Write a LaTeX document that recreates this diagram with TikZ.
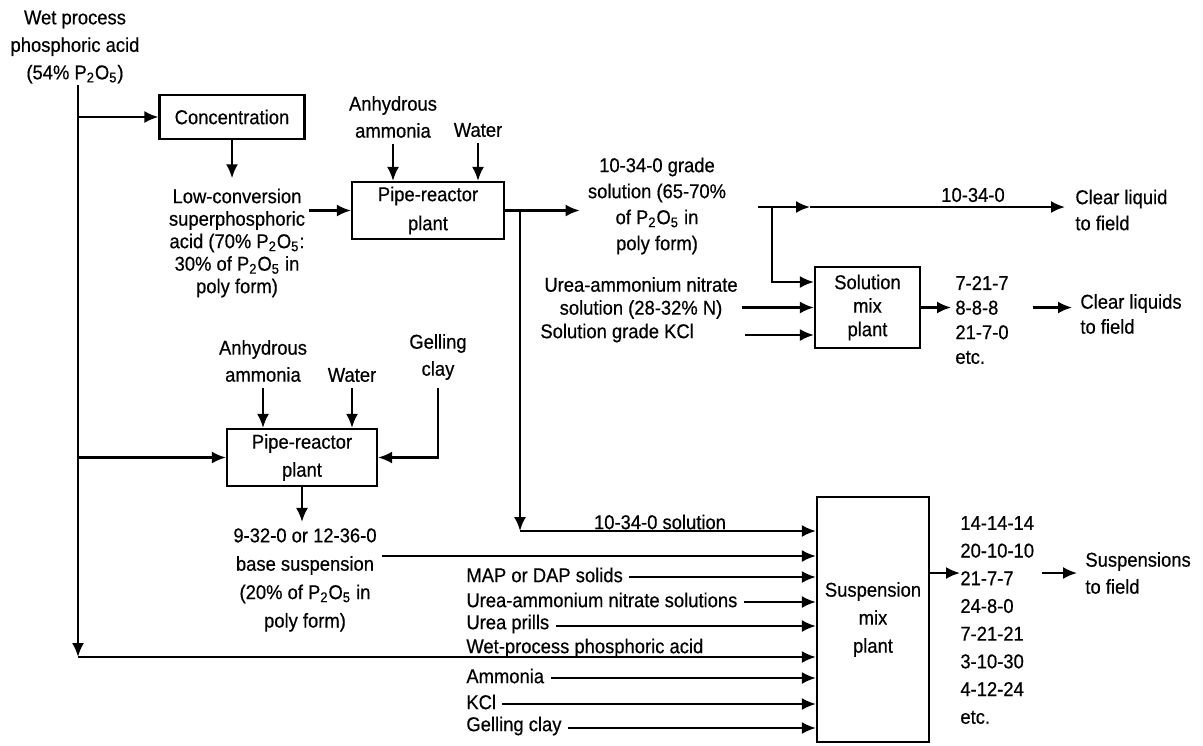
\documentclass[tikz,border=0pt]{standalone}
\usepackage{fontspec}
\setmainfont{Liberation Sans}[FakeStretch=0.92,FakeBold=0.5]
\usetikzlibrary{arrows.meta,calc}
\newcommand{\PtO}{P\textsubscript{2}O\textsubscript{5}}
\begin{document}
\begin{tikzpicture}[x=0.5pt,y=-0.5pt,
  >={Latex[length=7pt,width=6pt]},
  flow/.style={->, line width=1.1pt},
  lbl/.style={inner sep=0pt, align=center, font=\fontsize{10}{#1}\selectfont},
  lbl/.default=13,
  lleft/.style={lbl=#1, align=left, anchor=west},
  lleft/.default=13,
  box/.style={draw, line width=1.1pt, inner sep=0pt}]
\useasboundingbox (0,0) rectangle (1203,745);

% ---------- top part ----------
\node[lbl=13.75] (wet) at (75,47) {Wet process\\phosphoric acid\\(54\% \PtO)};
\node[box, lbl, minimum width=72.5pt, minimum height=22pt] (conc) at (232,117) {Concentration};
\node[lbl=11.25] (low) at (237,243) {Low-conversion\\superphosphoric\\acid (70\% \PtO:\\30\% of \PtO\ in\\poly form)};
\node[box, lbl=14.5, minimum width=76pt, minimum height=28.5pt] (pr1) at (428,210.5) {Pipe-reactor\\plant};
\node[lbl=13.5] (anh1) at (393,117) {Anhydrous\\ammonia};
\node[lbl] (wat1) at (478,130) {Water};
\node[lbl=13] (grade) at (657,206) {10-34-0 grade\\solution (65-70\%\\of \PtO\ in\\poly form)};
\node[lbl] (lab1) at (973,195) {10-34-0};
\node[lleft=13] (clear1) at (1075,210) {Clear liquid\\to field};
\node[box, lbl=11.75, minimum width=52.5pt, minimum height=40.5pt] (sol) at (867.5,307.5) {Solution\\mix\\plant};
\node[lbl=11.5] (uan1) at (641,298) {Urea-ammonium nitrate\\solution (28-32\% N)};
\node[lleft] (kcl1) at (540,333) {Solution grade KCl};
\node[lleft=12.3] (solout) at (955,320) {7-21-7\\8-8-8\\21-7-0\\etc.};
\node[lleft=12.5] (clear2) at (1080,314) {Clear liquids\\to field};

% ---------- lower part ----------
\node[box, lbl=14, minimum width=75pt, minimum height=28.5pt] (pr2) at (302,457.5) {Pipe-reactor\\plant};
\node[lbl=13.5] (anh2) at (263,361) {Anhydrous\\ammonia};
\node[lbl] (wat2) at (352,375) {Water};
\node[lbl=13.5] (gel) at (438,357) {Gelling\\clay};
\node[lbl=14.2] (base) at (305,580) {9-32-0 or 12-36-0\\base suspension\\(20\% of \PtO\ in\\poly form)};
\node[box, lbl=14, minimum width=56pt, minimum height=122.5pt] (susp) at (873,619.5) {Suspension\\mix\\plant};
\node[lbl] (lab2) at (660,522) {10-34-0 solution};
\node[lleft] (map) at (466,575) {MAP or DAP solids};
\node[lleft] (uan2) at (466,600) {Urea-ammonium nitrate solutions};
\node[lleft] (prill) at (466,624) {Urea prills};
\node[lleft] (wetp) at (466,648) {Wet-process phosphoric acid};
\node[lleft] (amm) at (466,676) {Ammonia};
\node[lleft] (kcl2) at (466,702) {KCl};
\node[lleft] (gclay) at (466,726) {Gelling clay};
\node[lleft=13.85] (suspout) at (960,620) {14-14-14\\20-10-10\\21-7-7\\24-8-0\\7-21-21\\3-10-30\\4-12-24\\etc.};
\node[lleft=13.5] (suspf) at (1085,573) {Suspensions\\to field};

% ---------- coordinates ----------
\coordinate (top) at (78,85);
\coordinate (corner) at (78,657);
\coordinate (jc) at (78,117);
\coordinate (jp) at (78,457.5);
\coordinate (j1) at (520,210.5);
\coordinate (c2) at (520,531);
\coordinate (s1) at (758,207);
\coordinate (m1) at (810,207);
\coordinate (j2) at (772,207);
\coordinate (c3) at (772,282);
\coordinate (k1) at (745,335);
\coordinate (b1) at (382,556);

% ---------- connectors ----------
\draw[flow] (top) -- (corner);
\draw[flow] (corner) -- (corner -| susp.west);
\draw[flow] (jc) -- (conc.west);
\draw[flow] (jp) -- (pr2.west);
\draw[flow, shorten >=5pt] (conc.south) -- (conc.south |- low.north);
\draw[flow] ([xshift=2pt]low.east |- pr1.west) -- (pr1.west);
\draw[flow, shorten <=3pt] (anh1.south) -- (anh1.south |- pr1.north);
\draw[flow, shorten <=3pt] (wat1.south) -- (wat1.south |- pr1.north);
\draw[flow, shorten >=4pt] (pr1.east) -- (grade.west |- pr1.east);
\draw[flow] (j1) -- (c2);
\draw[flow] (c2) -- (c2 -| susp.west);
\draw[line width=1.1pt] (s1) -- (j2);
\draw[flow] (j2) -- (m1);
\draw[flow, shorten >=5pt] (m1) -- (clear1.west |- m1);
\draw[flow] (j2) -- (c3) -- (c3 -| sol.west);
\draw[flow] ([xshift=2pt]uan1.east |- sol.west) -- (sol.west);
\draw[flow] (k1) -- (k1 -| sol.west);
\draw[flow, shorten >=2pt] (sol.east) -- (sol.east -| solout.west);
\draw[flow, shorten >=4pt] ([xshift=12pt]solout.east |- sol.east) -- (clear2.west |- sol.east);

\draw[flow, shorten <=3pt] (anh2.south) -- (anh2.south |- pr2.north);
\draw[flow, shorten <=3pt] (wat2.south) -- (wat2.south |- pr2.north);
\draw[flow, shorten <=4pt] (gel.south) -- (gel.south |- pr2.east) -- (pr2.east);
\draw[flow, shorten >=3pt] (pr2.south) -- (pr2.south |- base.north);
\draw[flow] (b1) -- (b1 -| susp.west);
\foreach \n in {map,uan2,prill,amm,kcl2,gclay}
  \draw[flow] ([xshift=3pt,yshift=-1pt]\n.east) -- ([yshift=-1pt]\n.east -| susp.west);
\draw[flow] ([yshift=23.25pt]susp.east) -- ([yshift=23.25pt]susp.east -| suspout.west);
\draw[flow, shorten >=4pt] ([xshift=4pt]suspout.east |- suspf.west) -- (suspf.west);
\end{tikzpicture}
\end{document}
